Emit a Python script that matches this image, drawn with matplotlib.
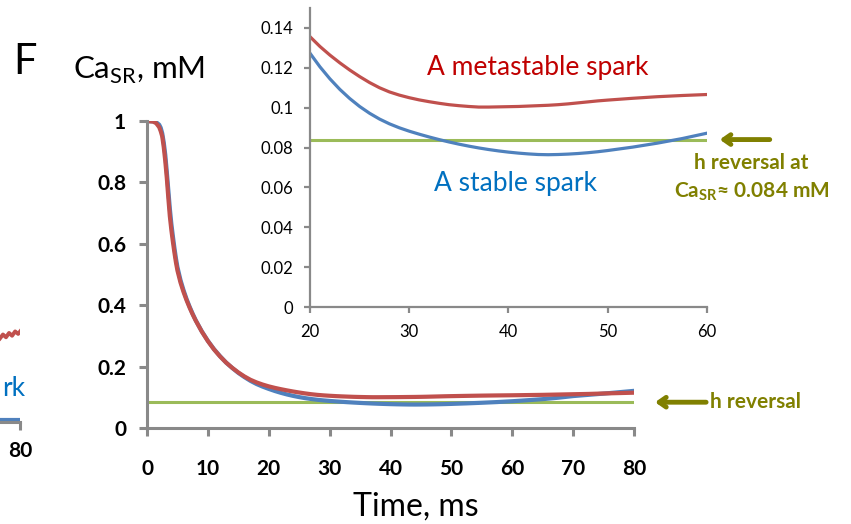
import numpy as np
import matplotlib.pyplot as plt

plt.rcParams['font.family'] = ['Lato', 'DejaVu Sans']
plt.rcParams['mathtext.fontset'] = 'custom'
plt.rcParams['mathtext.rm'] = 'Lato'
plt.rcParams['mathtext.bf'] = 'Lato:bold'

# Ca_SR (mM) vs time (ms) for the two sparks
t = ([0, 0.5, 1, 1.5, 2, 2.25, 2.5, 2.75, 3, 3.25, 3.5, 3.75, 4, 4.25, 4.5,
      4.75, 5, 5.5, 6, 6.5, 7, 7.5, 8]
     + list(range(9, 51))
     + [52.5, 55, 57.5, 60, 62.5, 65, 67.5, 70, 72.5, 75, 77.5, 80])
ca_meta = [1.0, 0.999, 0.998, 0.993, 0.98, 0.967, 0.95, 0.915, 0.87, 0.815,
           0.75, 0.69, 0.645, 0.607, 0.572, 0.540, 0.513, 0.474, 0.443, 0.416,
           0.392, 0.370, 0.350,
           0.314, 0.283, 0.256, 0.233, 0.213, 0.196, 0.181, 0.168, 0.157,
           0.1485, 0.1415, 0.1356, 0.1307, 0.1264, 0.1225, 0.1189, 0.1156,
           0.1126, 0.1100, 0.1079, 0.1063, 0.1050, 0.1039, 0.1030, 0.1022,
           0.1015, 0.1010, 0.1006, 0.1003, 0.1003, 0.1004, 0.1005, 0.1006,
           0.1008, 0.1010, 0.1012, 0.1015, 0.1019, 0.1024, 0.1029, 0.1034,
           0.1038,
           0.1047, 0.1055, 0.1061, 0.1066, 0.1073, 0.108, 0.109, 0.110, 0.111,
           0.1125, 0.1137, 0.115]
ca_stable = [1.0, 0.999, 0.999, 0.996, 0.988, 0.978, 0.96, 0.93, 0.89, 0.835,
             0.775, 0.715, 0.665, 0.625, 0.587, 0.553, 0.524, 0.482, 0.449,
             0.420, 0.395, 0.372, 0.351,
             0.315, 0.284, 0.257, 0.234, 0.213, 0.1955, 0.1795, 0.1658,
             0.1535, 0.1432, 0.1347, 0.1273, 0.1205, 0.1145, 0.1092, 0.1046,
             0.1006, 0.0972, 0.0943, 0.0919, 0.0899, 0.0882, 0.0867, 0.0853,
             0.0840, 0.0828, 0.0817, 0.0807, 0.0798, 0.0790, 0.0783, 0.0777,
             0.0772, 0.0768, 0.0765, 0.0764, 0.0765, 0.0767, 0.0770, 0.0774,
             0.0779, 0.0785,
             0.0802, 0.0822, 0.0845, 0.0872, 0.0905, 0.094, 0.0985, 0.104,
             0.108, 0.112, 0.1165, 0.121]
h_rev = 0.084

main_xticks = [0, 10, 20, 30, 40, 50, 60, 70, 80]
main_yticks = [0, 0.2, 0.4, 0.6, 0.8, 1]
main_ylabels = ['0', '0.2', '0.4', '0.6', '0.8', '1']
ins_xticks = [20, 30, 40, 50, 60]
ins_yticks = [0, 0.02, 0.04, 0.06, 0.08, 0.1, 0.12, 0.14]
ins_ylabels = ['0', '0.02', '0.04', '0.06', '0.08', '0.1', '0.12', '0.14']

# bit of the neighbouring panel cut off at the left edge
frag_t = [76.7, 77.2, 77.7, 78.2, 78.7, 79.2, 79.7, 80.1]
frag_red = [0.272, 0.285, 0.276, 0.290, 0.281, 0.295, 0.287, 0.297]
frag_blue_t = [70, 80]
frag_blue = [0.008, 0.008]

red = '#C0504D'
blue = '#4F81BD'
green = '#9BBB59'
grey = '#898989'
olive = '#808000'

W, H = 851, 524
fig = plt.figure(figsize=(W / 100, H / 100), dpi=100)

def frac(l, r, top, bot):
    return [l / W, 1 - bot / H, (r - l) / W, (bot - top) / H]

# left fragment
ax0 = fig.add_axes(frac(-467, 20, 115, 422))
ax0.plot(frag_t, frag_red, color=red, lw=2.8)
ax0.plot(frag_blue_t, frag_blue, color=blue, lw=3)
ax0.set_xlim(0, 80)
ax0.set_ylim(0, 1)
for s in ['left', 'top', 'right']:
    ax0.spines[s].set_visible(False)
ax0.spines['bottom'].set_color(grey)
ax0.spines['bottom'].set_linewidth(2.2)
ax0.set_xticks([80])
ax0.set_xticklabels(['80'], fontsize=15, fontweight='bold')
ax0.set_yticks([])
ax0.tick_params(axis='x', color=grey, width=2.2, length=6, pad=8)
ax0.text(80.8, 0.11, 'rk', color='#0070C0', fontsize=19, ha='right', va='center')
ax0.patch.set_visible(False)

# main panel
ax = fig.add_axes(frac(147, 634, 121, 428))
ax.plot(t, [h_rev] * len(t), color=green, lw=2.2)
ax.plot(t, ca_stable, color=blue, lw=3)
ax.plot(t, ca_meta, color=red, lw=3)
ax.set_xlim(0, 80)
ax.set_ylim(0, 1)
for s in ['top', 'right']:
    ax.spines[s].set_visible(False)
for s in ['left', 'bottom']:
    ax.spines[s].set_color(grey)
    ax.spines[s].set_linewidth(2.2)
ax.set_xticks(main_xticks)
ax.set_xticklabels([str(v) for v in main_xticks], fontsize=15, fontweight='bold')
ax.set_yticks(main_yticks)
ax.set_yticklabels(main_ylabels, fontsize=15, fontweight='bold')
ax.tick_params(axis='x', color=grey, width=2.2, length=6, pad=16)
ax.tick_params(axis='y', color=grey, width=2.2, length=6, pad=9)
ax.set_xlabel('Time, ms', fontsize=23)
ax.xaxis.set_label_coords((416 - 147) / 487, -(507 - 428) / 307)
ax.xaxis.label.set_va('center')

ax.annotate('', xy=(83, h_rev), xytext=(92.3, h_rev), annotation_clip=False,
            arrowprops=dict(arrowstyle='->,head_length=0.5,head_width=0.35',
                            color=olive, lw=3.5))
ax.text(92.5, h_rev, 'h reversal', color=olive, fontsize=15, fontweight='bold',
        ha='left', va='center', clip_on=False)

fig.text(25 / W, 1 - 62 / H, 'F', fontsize=30, ha='center', va='center')
fig.text(73 / W, 1 - 70 / H, r'Ca$_{\mathrm{SR}}$, mM', fontsize=22.5,
         ha='left', va='center')

# inset zoom 20-60 ms
ax2 = fig.add_axes(frac(310, 707, 8, 307))
ax2.plot([20, 60], [h_rev, h_rev], color=green, lw=2.2)
ax2.plot(t, ca_stable, color=blue, lw=2.3)
ax2.plot(t, ca_meta, color=red, lw=2.3)
ax2.set_xlim(20, 60)
ax2.set_ylim(0, 0.15)
for s in ['top', 'right']:
    ax2.spines[s].set_visible(False)
for s in ['left', 'bottom']:
    ax2.spines[s].set_color(grey)
    ax2.spines[s].set_linewidth(1.6)
ax2.set_xticks(ins_xticks)
ax2.set_xticklabels([str(v) for v in ins_xticks], fontsize=12)
ax2.set_yticks(ins_yticks)
ax2.set_yticklabels(ins_ylabels, fontsize=12)
ax2.tick_params(color=grey, width=1.6, length=4, pad=8)
ax2.patch.set_visible(False)

ax2.text(42.9, 0.1199, 'A metastable spark', color='#C00000', fontsize=19,
         ha='center', va='center')
ax2.text(40.7, 0.0618, 'A stable spark', color='#0070C0', fontsize=19,
         ha='center', va='center')
ax2.annotate('', xy=(61, h_rev), xytext=(66.6, h_rev), annotation_clip=False,
             arrowprops=dict(arrowstyle='->,head_length=0.5,head_width=0.35',
                             color=olive, lw=3.5))
ax2.text(64.5, 0.0723, 'h reversal at', color=olive, fontsize=15,
         fontweight='bold', ha='center', va='center', clip_on=False)
ax2.text(64.5, 0.0577, r'Ca$_{\mathbf{SR}}$≈ 0.084 mM', color=olive, fontsize=15,
         fontweight='bold', ha='center', va='center', clip_on=False)

fig.savefig('out.png', dpi=100)
